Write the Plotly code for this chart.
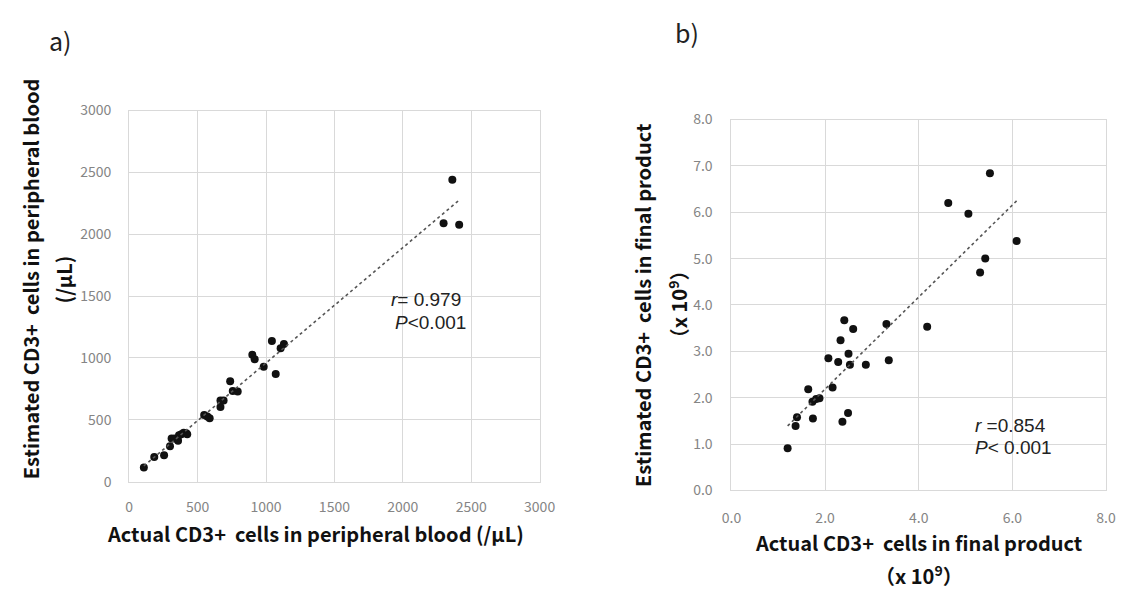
import numpy as np
import plotly.graph_objects as go

W, H = 1138, 597

# ---------------- data ----------------
# Panel a: peripheral blood (/µL)
pb_actual = [107, 183, 255, 298, 310, 357, 381, 417, 333, 364, 398, 424,
             548, 571, 588, 667, 667, 690, 738, 757, 793, 900, 917, 983,
             1043, 1071, 1107, 1131, 2298, 2362, 2412]
pb_estimated = [115, 200, 214, 286, 349, 331, 383, 391, 349, 375, 396, 383,
                539, 526, 513, 604, 656, 656, 812, 734, 729, 1026, 990, 930,
                1138, 870, 1078, 1112, 2089, 2440, 2076]

# Panel b: final product (x10^9)
fp_actual = [1.20, 1.37, 1.40, 1.64, 1.73, 1.74, 1.81, 1.88, 2.07, 2.16,
             2.28, 2.33, 2.37, 2.41, 2.49, 2.50, 2.53, 2.60, 2.87, 3.31,
             3.36, 4.18, 4.63, 5.06, 5.31, 5.42, 5.52, 6.09]
fp_estimated = [0.91, 1.39, 1.58, 2.18, 1.91, 1.55, 1.97, 1.99, 2.85, 2.22,
                2.77, 3.24, 1.48, 3.67, 1.67, 2.95, 2.71, 3.48, 2.71, 3.59,
                2.81, 3.53, 6.20, 5.97, 4.70, 5.00, 6.84, 5.38]

a_ticks = [0, 500, 1000, 1500, 2000, 2500, 3000]
b_ticks = [0.0, 1.0, 2.0, 3.0, 4.0, 5.0, 6.0, 7.0, 8.0]
b_xticks = [0.0, 2.0, 4.0, 6.0, 8.0]

stat_a = ["<i>r</i>= 0.979", "<i>P</i><0.001"]
stat_b = ["<i>r</i> =0.854", "<i>P</i>< 0.001"]

SP = "\u00a0 "  # wide gap after CD3+


def PX(x):
    return x / W


def PY(y):
    return 1 - y / H


def trend(xs, ys):
    xs = np.asarray(xs, float)
    ys = np.asarray(ys, float)
    k, c = np.polyfit(xs, ys, 1)
    xx = np.array([xs.min(), xs.max()])
    return xx, k * xx + c


fig = go.Figure()

mk = dict(color="#111111", size=8)
tl = dict(color="#555555", width=1.6, dash="dot")

fig.add_trace(go.Scatter(x=pb_actual, y=pb_estimated, mode="markers",
                         marker=mk, xaxis="x", yaxis="y", showlegend=False))
tx, ty = trend(pb_actual, pb_estimated)
fig.add_trace(go.Scatter(x=tx, y=ty, mode="lines", line=tl,
                         xaxis="x", yaxis="y", showlegend=False))

fig.add_trace(go.Scatter(x=fp_actual, y=fp_estimated, mode="markers",
                         marker=mk, xaxis="x2", yaxis="y2", showlegend=False))
tx2, ty2 = trend(fp_actual, fp_estimated)
fig.add_trace(go.Scatter(x=tx2, y=ty2, mode="lines", line=tl,
                         xaxis="x2", yaxis="y2", showlegend=False))

grid = "#d9d9d9"
tickfont = dict(family="Noto Sans CJK JP", size=14, color="#858585")
common = dict(showgrid=True, gridcolor=grid, gridwidth=1, zeroline=False,
              showline=True, linecolor=grid, linewidth=1, mirror=True,
              ticks="", tickfont=tickfont, fixedrange=True)

fig.update_layout(
    width=W, height=H,
    margin=dict(l=0, r=0, t=0, b=0),
    paper_bgcolor="white", plot_bgcolor="white",
    xaxis=dict(domain=[PX(122), PX(542)], range=[0, 3000], tickvals=a_ticks,
               anchor="y", ticklabelstandoff=13, **common),
    yaxis=dict(domain=[PY(487), PY(103)], range=[0, 3000], tickvals=a_ticks,
               anchor="x", ticklabelstandoff=14, **common),
    xaxis2=dict(domain=[PX(738.3), PX(1121.7)], range=[0, 8], tickvals=b_xticks,
                tickformat=".1f", anchor="y2", ticklabelstandoff=15, **common),
    yaxis2=dict(domain=[PY(496), PY(112.3)], range=[0, 8], tickvals=b_ticks,
                tickformat=".1f", anchor="x2", ticklabelstandoff=15, **common),
)

title_font = dict(family="Noto Sans CJK JP", size=20, color="#111111")
stat_font = dict(family="Liberation Sans", size=19, color="#222222")
panel_font = dict(family="Noto Sans CJK JP", size=25, color="#222222")


def ann(text, x, y, font, angle=0, xanchor="center"):
    fig.add_annotation(text=text, x=PX(x), y=PY(y), xref="paper", yref="paper",
                       showarrow=False, font=font, textangle=angle,
                       xanchor=xanchor, yanchor="middle", borderpad=0)


# panel labels
ann("a)", 52, 30, panel_font)
ann("b)", 693, 22, panel_font)

# panel a titles
ann("<b>Estimated CD3+" + SP + "cells in peripheral blood</b>", 21, 277, title_font, -90)
ann("<b>(/µL)</b>", 55, 278, title_font, -90)
ann("<b>Actual CD3+" + SP + "cells in peripheral blood (/µL)</b>", 313, 541, title_font)

# panel b titles
ann("<b>Estimated CD3+" + SP + "cells in final product</b>", 648, 304, title_font, -90)
ann("<b>（x 10<sup>9</sup>）</b>", 683, 303, title_font, -90)
ann("<b>Actual CD3+" + SP + "cells in final product</b>", 930, 550, title_font)
ann("<b>（x 10<sup>9</sup>）</b>", 930, 584, title_font)

# statistics
ann(stat_a[0], 463, 299, stat_font, xanchor="right")
ann(stat_a[1], 468, 322, stat_font, xanchor="right")
ann(stat_b[0], 987, 429, stat_font, xanchor="left")
ann(stat_b[1], 987, 452, stat_font, xanchor="left")

fig.write_html("out.html")
